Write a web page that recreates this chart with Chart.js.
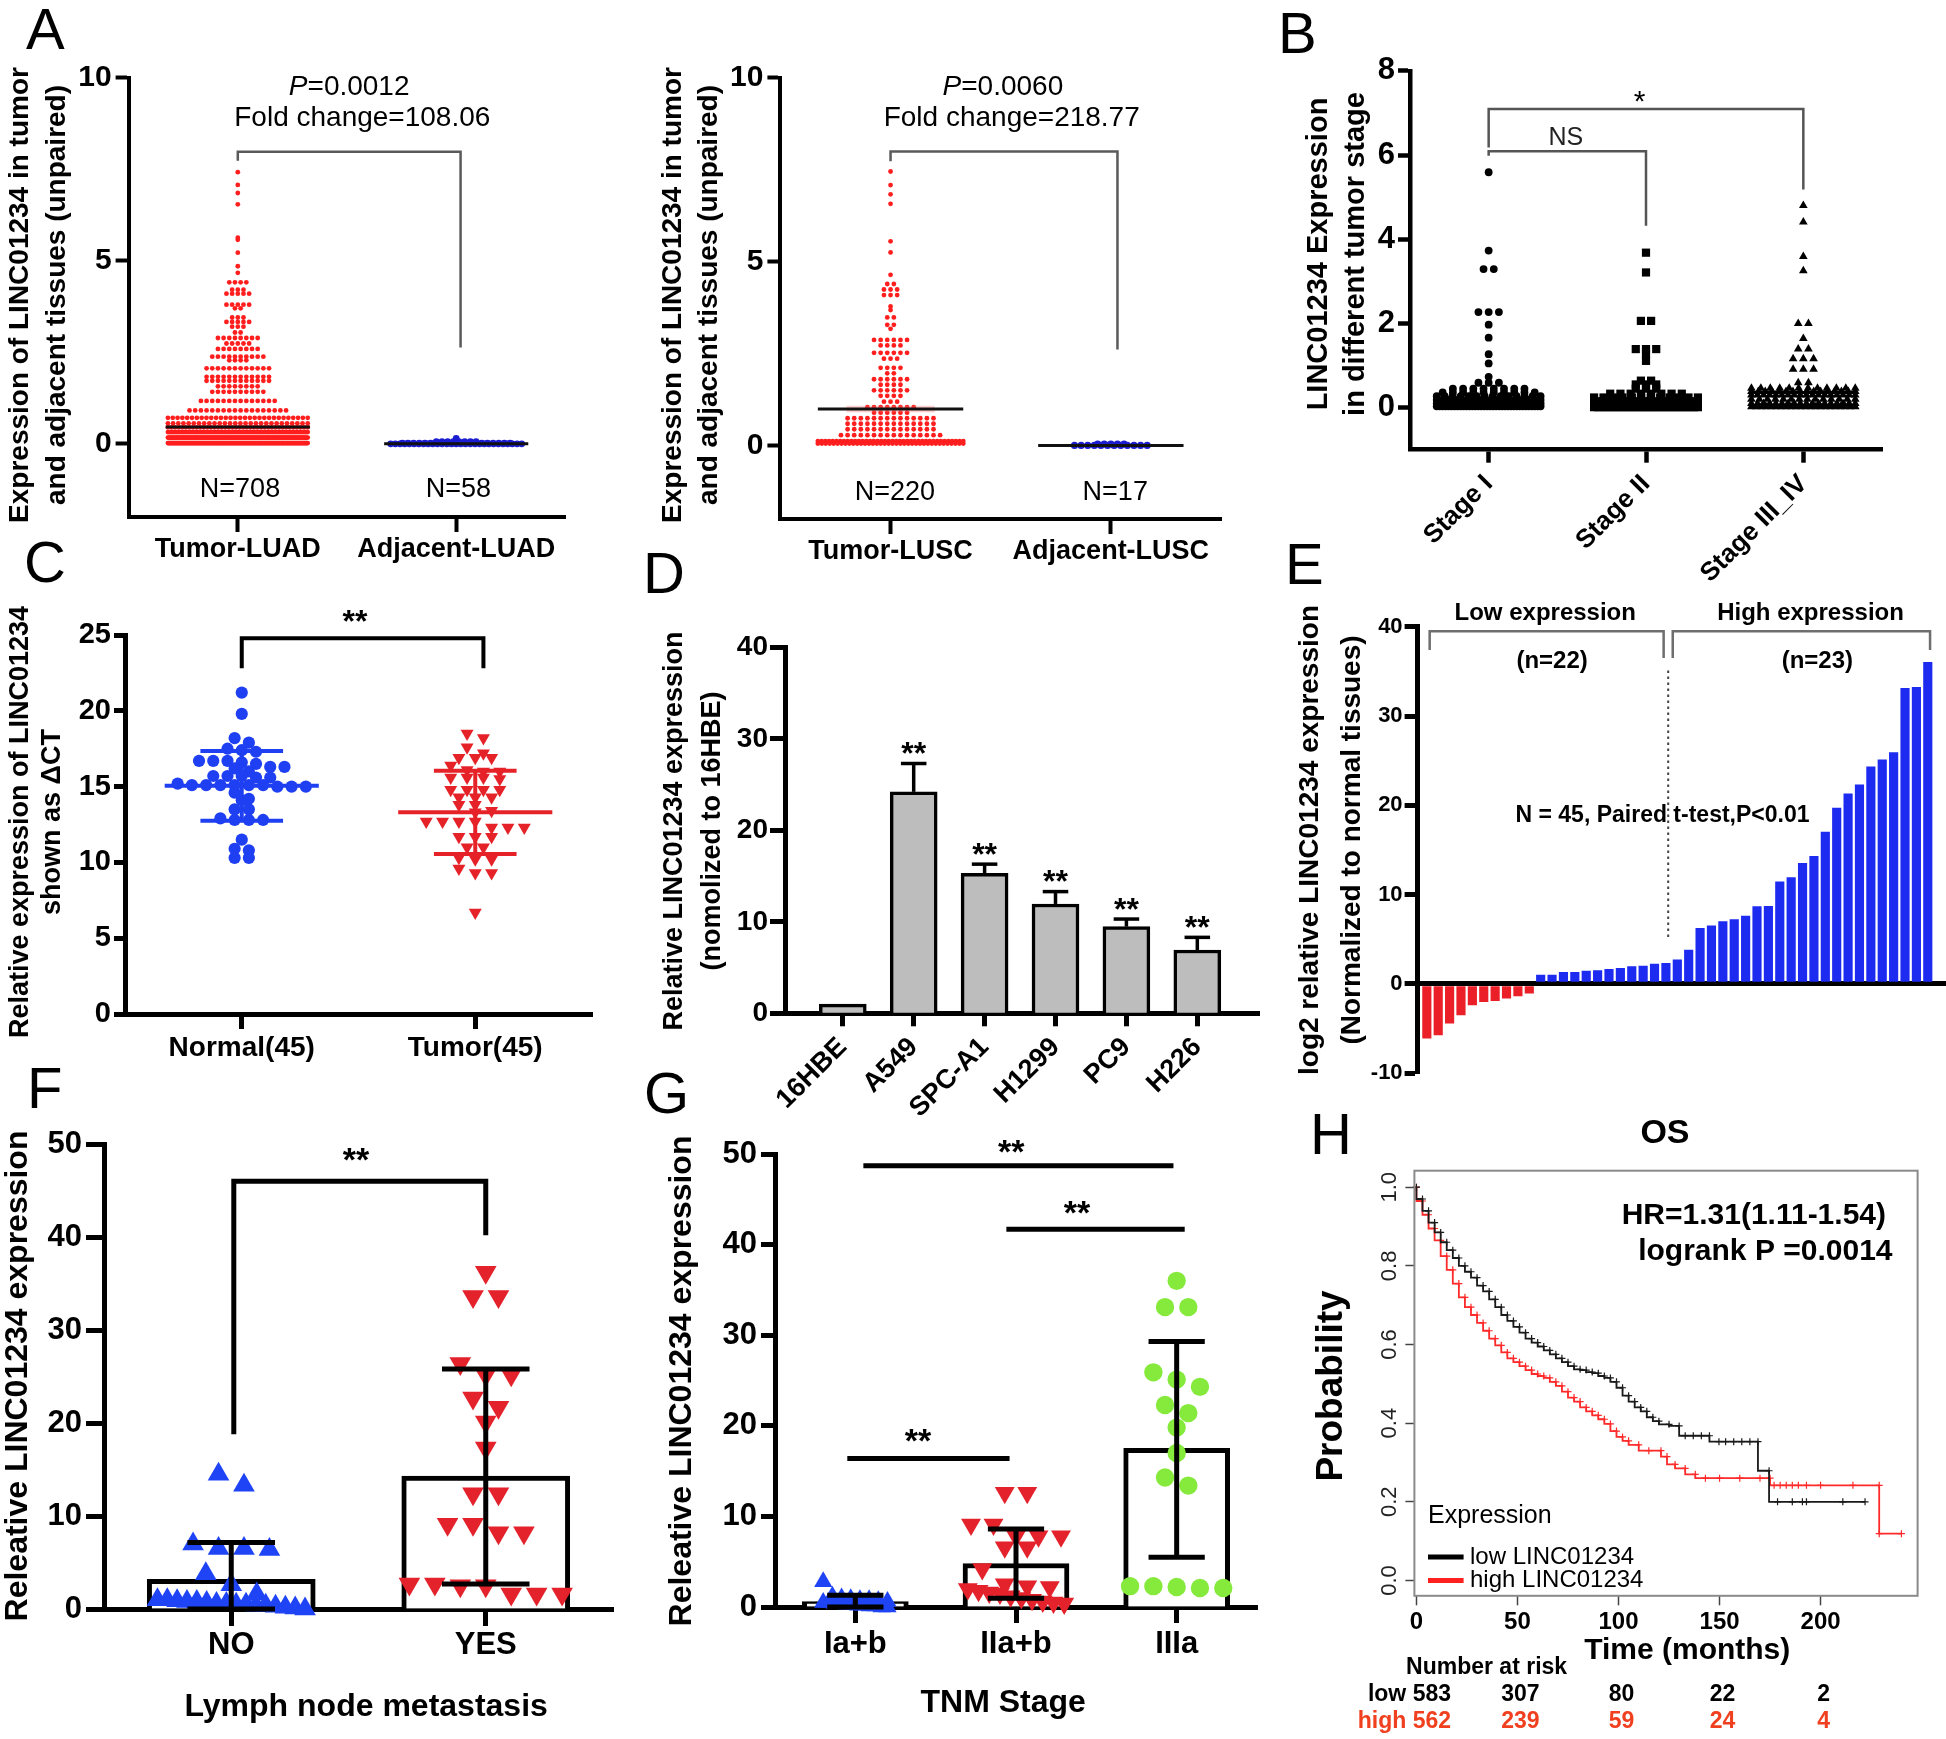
<!DOCTYPE html>
<html><head><meta charset="utf-8"><title>LINC01234 figure</title>
<script src="https://cdn.jsdelivr.net/npm/chart.js@4.4.1/dist/chart.umd.min.js"></script>
<style>
html,body{margin:0;padding:0;background:#fff;}
#wrap{position:relative;width:1946px;height:1739px;overflow:hidden;background:#fff;}
#wrap canvas{position:absolute;left:0;top:0;}
.pl{position:absolute;font-family:'Liberation Sans',Arial,sans-serif;font-size:58px;line-height:58px;color:#000;}
</style></head>
<body><div id="wrap">
<div class="pl" style="left:26px;top:0px">A</div>
<div class="pl" style="left:1278px;top:4px">B</div>
<div class="pl" style="left:24px;top:533px">C</div>
<div class="pl" style="left:643px;top:544px">D</div>
<div class="pl" style="left:1285px;top:535px">E</div>
<div class="pl" style="left:27px;top:1059px">F</div>
<div class="pl" style="left:644px;top:1064px">G</div>
<div class="pl" style="left:1310px;top:1105px">H</div>
</div>
<script>
// ======================= DATA =======================
// A: TCGA LUAD dot plot, rows of dots: [expression value, dots in row]
const luadCats = ['Tumor-LUAD', 'Adjacent-LUAD'];
const luadTumorRows = [[7.42,1],[7.07,1],[6.85,1],[6.54,1],[5.63,1],[5.57,1],[5.22,1],[4.85,1],[4.67,1],[4.41,4],[4.21,3],[4.10,5],[3.80,5],[3.70,2],[3.45,3],[3.33,5],[3.20,3],[3.04,2],[2.89,8],[2.74,5],[2.59,8],[2.38,10],[2.28,4],[2.06,12],[1.83,12],[1.72,12],[1.57,8],[1.42,10],[1.17,14],[0.91,18],[0.71,30],[0.56,28],[0.45,40],[0.32,100],[0.17,150],[0.02,198]];
const luadAdjRows = [[0.15,1],[0.06,8],[0.02,20],[0.0,29]];
const luadMeans = [0.46, 0.0];
const luadN = ['N=708', 'N=58'];
// A: TCGA LUSC
const luscCats = ['Tumor-LUSC', 'Adjacent-LUSC'];
const luscTumorRows = [[7.45,1],[7.08,1],[6.83,1],[6.57,1],[5.55,1],[5.25,1],[4.64,1],[4.39,2],[4.24,3],[4.09,3],[3.78,1],[3.68,1],[3.48,2],[3.28,2],[3.17,1],[2.87,6],[2.72,4],[2.52,6],[2.36,3],[2.11,4],[1.96,2],[1.80,6],[1.65,4],[1.50,6],[1.35,4],[1.19,3],[1.04,8],[0.89,6],[0.74,14],[0.59,14],[0.44,14],[0.28,16],[0.12,40],[0.05,38]];
const luscAdjRows = [[0.04,5],[0.0,12]];
const luscMeans = [0.99, 0.0];
const luscN = ['N=220', 'N=17'];
// B: expression by tumor stage
const stageCats = ['Stage I', 'Stage II', 'Stage III_IV'];
const stageIRows = [[5.59,1],[3.73,1],[3.29,2],[2.27,3],[1.97,1],[1.66,1],[1.27,1],[1.05,1],[0.73,1],[0.59,3],[0.45,8],[0.36,10],[0.27,14],[0.18,18],[0.10,26],[0.03,36]];
const stageIIRows = [[3.68,1],[3.21,1],[2.06,2],[1.39,3],[1.27,1],[1.11,1],[0.64,2],[0.55,3],[0.45,3],[0.33,8],[0.24,12],[0.15,18],[0.07,22],[0.01,26]];
const stageIIIRows = [[4.80,1],[4.41,1],[3.59,1],[3.25,1],[2.00,2],[1.64,1],[1.39,2],[1.16,3],[0.91,3],[0.59,2],[0.46,12],[0.38,16],[0.30,18],[0.20,14],[0.10,18],[0.02,22]];
const stageMeans = [0.13, 0.20, 0.36];
// C: delta CT, 45 paired samples
const cCats = ['Normal(45)', 'Tumor(45)'];
const cNormal = [21.2,19.8,18.2,17.9,17.5,17.4,17.3,16.7,16.7,16.6,16.5,16.7,16.3,16.3,16.2,16.0,15.7,15.7,15.6,15.6,15.7,15.1,15.1,15.0,15.1,15.2,15.0,15.1,15.1,15.0,15.1,14.6,14.2,14.1,13.5,13.5,12.8,12.8,12.8,12.9,11.5,10.9,10.8,10.3,10.3];
const cTumor = [18.5,18.2,17.6,17.2,16.9,16.9,16.9,16.4,16.1,16.0,16.0,15.6,15.6,15.6,15.5,14.8,14.8,14.8,14.8,14.3,14.3,14.3,13.8,13.8,13.4,13.3,12.7,12.7,12.7,12.7,12.3,12.3,12.3,11.7,11.7,11.7,11.0,11.0,10.3,10.2,10.2,9.6,9.3,9.3,6.7];
const cMean = [15.05, 13.3];
const cSD = [2.3, 2.75];
// D: cell lines
const dCells = ['16HBE', 'A549', 'SPC-A1', 'H1299', 'PC9', 'H226'];
const dMean = [1.0, 24.2, 15.3, 11.95, 9.47, 6.92];
const dErr = [0, 3.1, 1.0, 1.35, 0.83, 1.38];
// E: waterfall of 45 paired samples
const eValues = [-6.08,-5.7,-4.4,-3.47,-2.35,-1.98,-1.87,-1.6,-1.34,-1.04,1.0,1.0,1.3,1.3,1.45,1.5,1.64,1.75,1.94,2.0,2.24,2.31,2.7,3.8,6.23,6.5,7.0,7.2,7.6,8.66,8.7,11.45,11.9,13.5,14.3,17.0,19.7,21.3,22.3,24.3,25.1,25.9,33.1,33.2,36.0];
// F: lymph node metastasis
const fCats = ['NO', 'YES'];
const fNo = [14.5,13.3,7.0,6.5,6.5,6.4,3.8,2.6,1.6,1.0,1.0,0.9,0.8,0.8,0.7,0.6,0.6,0.5,0.5,0.4,0.4,0.3,0.2,0.1,0.0];
const fYes = [36.2,33.6,33.6,26.4,25.2,25.2,22.7,21.7,20.1,17.3,12.4,12.4,9.1,9.1,8.2,8.2,2.7,2.7,2.5,2.5,1.6,1.6,1.6];
const fMean = [3.2, 14.3];
const fLow = [0, 2.7];
const fHigh = [7.15, 25.8];
// G: TNM stage
const gCats = ['Ia+b', 'IIa+b', 'IIIa'];
const gIa = [2.8,1.2,1.0,0.9,0.8,0.8,0.7,0.6,0.5,0.5,0.4,0.4,0.3,0.3,0.2,0.2,0.1,0.1,0.0,0.0];
const gIIa = [12.6,12.6,9.1,9.1,7.8,7.8,7.8,6.6,6.6,4.2,2.5,2.3,2.2,2.0,1.8,1.6,1.5,1.2,1.0,0.8,0.6,0.5,0.4];
const gIIIa = [36.0,33.1,33.1,25.9,25.1,24.3,22.3,21.4,19.8,17.0,14.3,13.4,2.3,2.3,2.2,2.1,2.1];
const gMean = [0.6, 4.8, 17.5];
const gLow = [0, 0.96, 5.5];
const gHigh = [1.3, 8.6, 29.3];
// H: Kaplan-Meier OS
const kmLowT = [0,3,6,9,12,15,18,21,24,27,30,33,36,39,42,45,48,51,54,57,60,63,66,69,72,75,78,81,84,87,90,93,96,99,102,105,108,111,114,117,120,125,130,133,137,141,145,149.7,153,157,161,165,169,174.5,178.7,186,191,193,211,222];
const kmLowS = [1.00,0.97,0.94,0.91,0.885,0.86,0.84,0.82,0.80,0.785,0.77,0.75,0.735,0.715,0.695,0.675,0.66,0.645,0.63,0.615,0.605,0.595,0.585,0.575,0.565,0.555,0.545,0.537,0.535,0.53,0.527,0.52,0.515,0.505,0.49,0.47,0.455,0.44,0.43,0.415,0.405,0.397,0.393,0.368,0.368,0.368,0.368,0.353,0.353,0.353,0.353,0.353,0.353,0.279,0.20,0.20,0.20,0.20,0.20,0.20];
const kmHighT = [0,3,6,9,12,15,18,21,24,27,30,33,36,39,42,45,48,51,54,57,60,63,66,69,72,75,78,81,84,87,90,93,96,99,102,105,110,115,121,124,128,133,138,143,150,160,170,175,177,180,183,186,189,193,200,216,229,229,240];
const kmHighS = [1.0,0.965,0.93,0.895,0.865,0.825,0.79,0.755,0.72,0.695,0.675,0.655,0.635,0.615,0.598,0.58,0.565,0.555,0.545,0.535,0.525,0.52,0.515,0.505,0.495,0.48,0.465,0.455,0.44,0.43,0.42,0.41,0.398,0.38,0.365,0.355,0.345,0.33,0.33,0.315,0.295,0.285,0.27,0.26,0.26,0.26,0.26,0.26,0.242,0.242,0.242,0.242,0.242,0.242,0.242,0.242,0.242,0.119,0.119];
const kmTicks = [0, 50, 100, 150, 200];
const kmYTicks = [0, 0.2, 0.4, 0.6, 0.8, 1.0];
const riskTimes = [0, 50, 100, 150, 200];
const riskLow = [583, 307, 80, 22, 2];
const riskHigh = [562, 239, 59, 24, 4];
const hrText = ['HR=1.31(1.11-1.54)', 'logrank P =0.0014'];

// ======================= HELPERS =======================
const FF = "'Liberation Sans', Arial, Helvetica, sans-serif";
const PW = 1946, PH = 1739;
Chart.defaults.font.family = FF;
Chart.defaults.color = '#000';

function swarmRows(rows, cx, step, half) {
  const pts = [];
  rows.forEach(r => {
    const v = r[0], n = r[1];
    const s = n > 1 ? Math.min(step, 2 * half / (n - 1)) : 0;
    for (let i = 0; i < n; i++) pts.push({x: cx + (i - (n - 1) / 2) * s, y: v});
  });
  return pts;
}
function swarmVals(vals, cx, bin, step, half) {
  const sorted = vals.slice().sort((a, b) => b - a);
  const rows = [];
  sorted.forEach(v => {
    const last = rows[rows.length - 1];
    if (last && last[0] - v < bin) last.push(v); else rows.push([v]);
  });
  const pts = [];
  rows.forEach(r => {
    const n = r.length, s = n > 1 ? Math.min(step, 2 * half / (n - 1)) : 0;
    r.forEach((v, i) => pts.push({x: cx + (i - (n - 1) / 2) * s, y: v}));
  });
  return pts;
}
function xAxis(o) {
  return {
    type: 'linear', position: 'bottom', min: o.min, max: o.max, offset: false,
    afterBuildTicks: s => { s.ticks = o.vals.map(v => ({value: v})); },
    grid: {display: (o.tl || 0) > 0, offset: false, drawOnChartArea: false, drawTicks: true, tickLength: o.tl || 0,
      tickWidth: o.tw || 4, tickColor: o.tc || '#000', color: 'rgba(0,0,0,0)'},
    border: {display: (o.bw || 0) > 0, color: '#000', width: o.bw || 1},
    ticks: {display: !!o.labels, autoSkip: false, maxRotation: o.rot || 0, minRotation: o.rot || 0, padding: o.pad || 0,
      color: '#000', font: {family: FF, size: o.fs || 12, weight: o.fw || 'bold'},
      callback: (v, i) => (o.labels ? o.labels[i] : '')}
  };
}
function yAxis(o) {
  const zero = !!o.zero;
  return {
    type: 'linear', position: 'left', min: o.min, max: o.max,
    afterBuildTicks: s => { s.ticks = o.vals.map(v => ({value: v})); },
    afterFit: s => { s.width = 90; },
    grid: {display: true, drawOnChartArea: zero, drawTicks: true, tickLength: o.tl, tickWidth: o.tw || 4, tickColor: o.tc || '#000',
      color: c => (zero && c.tick && c.tick.value === 0) ? '#000' : 'rgba(0,0,0,0)',
      lineWidth: c => (zero && c.tick && c.tick.value === 0) ? (o.bw || 4) : 1},
    border: {display: (o.bw || 0) > 0, color: '#000', width: o.bw || 1},
    ticks: {padding: o.pad || 0, color: o.tcol || '#000', font: {family: FF, size: o.fs, weight: o.fw || 'bold'},
      callback: o.cb || (v => String(v))}
  };
}
function panel(box, type, datasets, xs, ys, draw, hX) {
  hX = hX || 150;
  xs.afterFit = s => { s.height = hX; };
  const cv = document.createElement('canvas');
  cv.width = PW; cv.height = PH;
  cv.style.width = PW + 'px'; cv.style.height = PH + 'px';
  document.getElementById('wrap').appendChild(cv);
  return new Chart(cv, {
    type: type,
    data: {datasets: datasets},
    options: {
      responsive: false, maintainAspectRatio: false, animation: false, devicePixelRatio: 1, events: [],
      layout: {padding: {left: box.L - 90, top: box.T, right: PW - box.R, bottom: PH - box.B - hX}},
      scales: {x: xs, y: ys},
      plugins: {legend: {display: false}, tooltip: {enabled: false}, title: {display: false}}
    },
    plugins: [{id: 'ann', afterDraw(ch) {
      const X = v => ch.scales.x.getPixelForValue(v);
      const Y = v => ch.scales.y.getPixelForValue(v);
      draw(ch.ctx, X, Y, ch);
    }}]
  });
}
function poly(c, pts, col, lw, dash) {
  c.save(); c.strokeStyle = col; c.lineWidth = lw; c.lineCap = 'butt'; c.lineJoin = 'miter';
  if (dash) c.setLineDash(dash);
  c.beginPath(); pts.forEach((p, i) => i ? c.lineTo(p[0], p[1]) : c.moveTo(p[0], p[1])); c.stroke(); c.restore();
}
function txt(c, s, x, y, font, o) {
  o = o || {};
  c.save(); c.font = font; c.fillStyle = o.color || '#000';
  c.textAlign = o.align || 'center'; c.textBaseline = o.base || 'middle';
  c.translate(x, y); if (o.rot) c.rotate(o.rot); c.fillText(s, 0, 0); c.restore();
}
function vTitle(c, lines, xs, yc, font) { lines.forEach((s, i) => txt(c, s, xs[i], yc, font, {rot: -Math.PI / 2})); }
function stars(c, s, x, yc, size, w) { txt(c, s, x, yc + 0.57 * size, (w || 'bold') + ' ' + size + 'px ' + FF, {base: 'alphabetic'}); }
function pItalic(c, x, y, size, rest) {
  c.save(); c.textBaseline = 'middle'; c.textAlign = 'left'; c.fillStyle = '#000';
  const fI = 'italic ' + size + 'px ' + FF, fR = size + 'px ' + FF;
  c.font = fI; const w1 = c.measureText('P').width;
  c.font = fR; const w2 = c.measureText(rest).width;
  const x0 = x - (w1 + w2) / 2;
  c.font = fI; c.fillText('P', x0, y);
  c.font = fR; c.fillText(rest, x0 + w1, y);
  c.restore();
}
function errBar(c, X, Y, x, lo, hi, cap, col, lw) {
  poly(c, [[X(x), Y(lo)], [X(x), Y(hi)]], col, lw);
  poly(c, [[X(x - cap), Y(hi)], [X(x + cap), Y(hi)]], col, lw);
  poly(c, [[X(x - cap), Y(lo)], [X(x + cap), Y(lo)]], col, lw);
}
function dots(data, color, r, style, rot) {
  return {type: 'scatter', data: data, pointStyle: style || 'circle', pointRadius: r, pointRotation: rot || 0,
    backgroundColor: color, borderColor: color, borderWidth: 0, pointBorderWidth: 0, clip: false, order: 1};
}

// ======================= PANEL A (LUAD) =======================
panel({L: 128.6, T: 77.7, R: 565.4, B: 517}, 'scatter', [
  dots(swarmRows(luadTumorRows, 0, 0.026, 0.32), '#ff1e1e', 2.4),
  dots(swarmRows(luadAdjRows, 1, 0.026, 0.3), '#1c1cd0', 3.4)
], xAxis({min: -0.5, max: 1.5, vals: [0, 1], labels: luadCats, fs: 27, tl: 15, pad: 1, bw: 4, tw: 4}),
   yAxis({min: -2, max: 10, vals: [0, 5, 10], fs: 30, tl: 13, pad: 4, bw: 4, tw: 4}),
   (c, X, Y) => {
     vTitle(c, ['Expression of LINC01234 in tumor', 'and adjacent tissues (unpaired)'], [20, 57], 295, 'bold 28px ' + FF);
     pItalic(c, X(0.51), Y(9.73), 28, '=0.0012');
     txt(c, 'Fold change=108.06', X(0.57), Y(8.89), '28px ' + FF);
     poly(c, [[X(0), Y(7.73)], [X(0), Y(7.98)], [X(1.02), Y(7.98)], [X(1.02), Y(2.63)]], '#5a5a5a', 2.5);
     luadMeans.forEach((m, i) => poly(c, [[X(i - 0.33), Y(m)], [X(i + 0.33), Y(m)]], '#111', 3));
     luadN.forEach((s, i) => txt(c, s, X(i + 0.01), Y(-1.26), '27px ' + FF));
   });

// ======================= PANEL A (LUSC) =======================
panel({L: 780.4, T: 77.7, R: 1221, B: 519}, 'scatter', [
  dots(swarmRows(luscTumorRows, 0, 0.03, 0.33), '#ff1e1e', 2.4),
  dots(swarmRows(luscAdjRows, 1, 0.03, 0.3), '#1c1cd0', 3.6)
], xAxis({min: -0.5, max: 1.5, vals: [0, 1], labels: luscCats, fs: 27, tl: 15, pad: 1, bw: 4, tw: 4}),
   yAxis({min: -2, max: 10, vals: [0, 5, 10], fs: 30, tl: 13, pad: 4, bw: 4, tw: 4}),
   (c, X, Y) => {
     vTitle(c, ['Expression of LINC01234 in tumor', 'and adjacent tissues (unpaired)'], [673.6, 709.2], 295, 'bold 28px ' + FF);
     pItalic(c, X(0.51), Y(9.73), 28, '=0.0060');
     txt(c, 'Fold change=218.77', X(0.55), Y(8.89), '28px ' + FF);
     poly(c, [[X(0), Y(7.73)], [X(0), Y(7.99)], [X(1.03), Y(7.99)], [X(1.03), Y(2.61)]], '#5a5a5a', 2.5);
     c.save(); c.fillStyle = 'rgba(255,120,120,0.35)';
     c.fillRect(X(-0.2), Y(1.08), X(0.2) - X(-0.2), Y(0.9) - Y(1.08)); c.restore();
     luscMeans.forEach((m, i) => poly(c, [[X(i - 0.33), Y(m)], [X(i + 0.33), Y(m)]], '#111', 3));
     luscN.forEach((s, i) => txt(c, s, X(i + 0.02), Y(-1.27), '27px ' + FF));
   });

// ======================= PANEL B =======================
panel({L: 1410, T: 70.8, R: 1882, B: 449.7}, 'scatter', [
  dots(swarmRows(stageIRows, 0, 0.065, 0.33), '#000', 3.9, 'circle'),
  dots(swarmRows(stageIIRows, 1, 0.065, 0.33), '#000', 5.8, 'rect'),
  dots(swarmRows(stageIIIRows, 2, 0.065, 0.33), '#000', 5, 'triangle')
], xAxis({min: -0.5, max: 2.5, vals: [0, 1, 2], labels: stageCats, fs: 26, tl: 13, pad: 6, bw: 4.5, tw: 4.5, rot: 45}),
   yAxis({min: -1, max: 8, vals: [0, 2, 4, 6, 8], fs: 31, tl: 12, pad: 3, bw: 4.5, tw: 4.5}),
   (c, X, Y) => {
     vTitle(c, ['LINC01234 Expression', 'in different tumor stage'], [1319, 1356], 254, 'bold 29px ' + FF);
     poly(c, [[X(0), Y(6.18)], [X(0), Y(7.09)], [X(2), Y(7.09)], [X(2), Y(5.18)]], '#555', 2.5);
     poly(c, [[X(0), Y(5.98)], [X(0), Y(6.09)], [X(1), Y(6.09)], [X(1), Y(4.32)]], '#555', 2.5);
     stars(c, '*', X(0.96), Y(7.45), 30, 'normal');
     txt(c, 'NS', X(0.49), Y(6.41), '25px ' + FF, {color: '#222'});
     stageMeans.forEach((m, i) => poly(c, [[X(i - 0.33), Y(m)], [X(i + 0.33), Y(m)]], '#000', 3));
   }, 175);

// ======================= PANEL C =======================
panel({L: 125, T: 635, R: 592, B: 1014}, 'scatter', [
  dots(swarmVals(cNormal, 0, 0.5, 0.061, 0.3), '#1f3ff2', 6.1, 'circle'),
  dots(swarmVals(cTumor, 1, 0.5, 0.07, 0.3), '#e62229', 7.5, 'triangle', 180)
], xAxis({min: -0.5, max: 1.5, vals: [0, 1], labels: cCats, fs: 28, tl: 15, pad: 2, bw: 5, tw: 5}),
   yAxis({min: 0, max: 25, vals: [0, 5, 10, 15, 20, 25], fs: 29, tl: 11, pad: 3, bw: 5, tw: 5}),
   (c, X, Y) => {
     vTitle(c, ['Relative expression of LINC01234', 'shown as \u0394CT'], [20.4, 53], 822, 'bold 27px ' + FF);
     poly(c, [[X(0), Y(22.8)], [X(0), Y(24.78)], [X(1.035), Y(24.78)], [X(1.035), Y(22.8)]], '#000', 4);
     stars(c, '**', X(0.485), Y(26.4), 32);
     const cols = ['#1f3ff2', '#e62229'];
     cMean.forEach((m, i) => {
       poly(c, [[X(i - 0.33), Y(m)], [X(i + 0.33), Y(m)]], cols[i], 4);
       errBar(c, X, Y, i, m - cSD[i], m + cSD[i], 0.177, cols[i], 4);
     });
   });

// ======================= PANEL D =======================
panel({L: 785, T: 647.3, R: 1259, B: 1013.3}, 'bar', [
  {type: 'bar', data: dMean.map((v, i) => ({x: i, y: v})), backgroundColor: '#bdbdbd', borderColor: '#000',
   borderWidth: 3.5, barThickness: 47, order: 2}
], xAxis({min: -0.815, max: 5.87, vals: [0, 1, 2, 3, 4, 5], labels: dCells, fs: 27, tl: 13, pad: 5, bw: 5, tw: 5, rot: 45}),
   yAxis({min: 0, max: 40, vals: [0, 10, 20, 30, 40], fs: 28, tl: 15, pad: 2, bw: 5, tw: 5}),
   (c, X, Y) => {
     vTitle(c, ['Relative LINC01234 expression', '(nomolized to 16HBE)'], [675, 713], 831, 'bold 27px ' + FF);
     dMean.forEach((m, i) => {
       if (!dErr[i]) return;
       const hi = m + dErr[i];
       poly(c, [[X(i), Y(m)], [X(i), Y(hi)]], '#000', 3.5);
       poly(c, [[X(i - 0.18), Y(hi)], [X(i + 0.18), Y(hi)]], '#000', 3.5);
       stars(c, '**', X(i), Y(hi + 1.9), 32);
     });
   }, 170);

// ======================= PANEL E =======================
panel({L: 1417.6, T: 626.7, R: 1946, B: 1073.3}, 'bar', [
  {type: 'bar', data: eValues.map((v, i) => ({x: i, y: v})), backgroundColor: eValues.map(v => v < 0 ? '#ea1f27' : '#1d2af0'),
   borderWidth: 0, barThickness: 8.5, order: 2}
], xAxis({min: -0.81, max: 45.6, vals: [], tl: 0, bw: 0}),
   yAxis({min: -10, max: 40, vals: [-10, 0, 10, 20, 30, 40], fs: 22, tl: 13, pad: 2, bw: 5, tw: 5, zero: true}),
   (c, X, Y) => {
     vTitle(c, ['log2 relative LINC01234 expression', '(Normalized to normal tissues)'], [1310, 1352], 840, 'bold 28px ' + FF);
     txt(c, 'Low expression', X(10.4), Y(41.5), 'bold 24px ' + FF);
     txt(c, 'High expression', X(33.7), Y(41.5), 'bold 24px ' + FF);
     txt(c, '(n=22)', X(11.0), Y(36.1), 'bold 24px ' + FF);
     txt(c, '(n=23)', X(34.3), Y(36.1), 'bold 24px ' + FF);
     poly(c, [[X(0.25), Y(37.4)], [X(0.25), Y(39.5)], [X(20.8), Y(39.5)], [X(20.8), Y(36.5)]], '#6e6e6e', 2.5);
     poly(c, [[X(21.6), Y(36.5)], [X(21.6), Y(39.5)], [X(44.2), Y(39.5)], [X(44.2), Y(37.4)]], '#6e6e6e', 2.5);
     poly(c, [[X(21.2), Y(35.1)], [X(21.2), Y(4.9)]], '#444', 2, [2.5, 3.5]);
     txt(c, 'N = 45, Paired t-test,P<0.01', X(20.7), Y(18.8), 'bold 23px ' + FF);
   });

// ======================= PANEL F =======================
panel({L: 104, T: 1144, R: 613, B: 1609}, 'bar', [
  {type: 'bar', data: fMean.map((v, i) => ({x: i, y: v})), backgroundColor: '#fff', borderColor: '#000',
   borderWidth: 5, barThickness: 168, order: 2},
  dots(swarmVals(fNo, 0, 2.2, 0.1, 0.29), '#1f44f5', 12.5, 'triangle'),
  dots(swarmVals(fYes, 1, 2.2, 0.1, 0.3), '#e3222b', 12.5, 'triangle', 180)
], xAxis({min: -0.5, max: 1.5, vals: [0, 1], labels: fCats, fs: 31, tl: 17, pad: 1, bw: 5, tw: 5}),
   yAxis({min: 0, max: 50, vals: [0, 10, 20, 30, 40, 50], fs: 31, tl: 18, pad: 4, bw: 5, tw: 5}),
   (c, X, Y) => {
     vTitle(c, ['Releative LINC01234 expression'], [18], 1376, 'bold 32px ' + FF);
     fMean.forEach((m, i) => errBar(c, X, Y, i, fLow[i], fHigh[i], 0.172, '#000', 5));
     poly(c, [[X(0.01), Y(18.8)], [X(0.01), Y(46)], [X(1), Y(46)], [X(1), Y(40.2)]], '#000', 5);
     stars(c, '**', X(0.49), Y(49.2), 34);
     txt(c, 'Lymph node metastasis', X(0.53), 1707, 'bold 32px ' + FF);
   }, 120);

// ======================= PANEL G =======================
panel({L: 775, T: 1154, R: 1257, B: 1607}, 'bar', [
  {type: 'bar', data: gMean.map((v, i) => ({x: i, y: v})), backgroundColor: '#fff', borderColor: '#000',
   borderWidth: 5, barThickness: 106, order: 2},
  dots(swarmVals(gIa, 0, 2.2, 0.12, 0.2), '#1f44f5', 10.5, 'triangle'),
  dots(swarmVals(gIIa, 1, 2.2, 0.14, 0.3), '#e3222b', 11.5, 'triangle', 180),
  dots(swarmVals(gIIIa, 2, 2.2, 0.145, 0.3), '#86ea3c', 9.2, 'circle')
], xAxis({min: -0.5, max: 2.5, vals: [0, 1, 2], labels: gCats, fs: 31, tl: 16, pad: 3, bw: 5, tw: 5}),
   yAxis({min: 0, max: 50, vals: [0, 10, 20, 30, 40, 50], fs: 31, tl: 14, pad: 4, bw: 5, tw: 5}),
   (c, X, Y) => {
     vTitle(c, ['Releative LINC01234 expression'], [682], 1381, 'bold 32px ' + FF);
     gMean.forEach((m, i) => errBar(c, X, Y, i, gLow[i], gHigh[i], 0.175, '#000', 5));
     poly(c, [[X(0.05), Y(48.7)], [X(1.98), Y(48.7)]], '#000', 5);
     poly(c, [[X(0.94), Y(41.7)], [X(2.05), Y(41.7)]], '#000', 5);
     poly(c, [[X(-0.05), Y(16.4)], [X(0.96), Y(16.4)]], '#000', 5);
     stars(c, '**', X(0.97), Y(51.1), 34);
     stars(c, '**', X(1.38), Y(44.4), 34);
     stars(c, '**', X(0.39), Y(19.2), 34);
     txt(c, 'TNM Stage', X(0.92), 1703, 'bold 32px ' + FF);
   }, 120);

// ======================= PANEL H =======================
function kmSet(ts, ss, col) {
  return {type: 'scatter', data: ts.map((t, i) => ({x: t, y: ss[i]})), showLine: true, stepped: 'after',
    borderColor: col, borderWidth: 1.8, backgroundColor: col, pointStyle: 'cross', pointRadius: 3.5,
    pointBorderColor: col, pointBorderWidth: 1.2, clip: false};
}
panel({L: 1414.4, T: 1170.7, R: 1917.6, B: 1595.8}, 'scatter', [
  kmSet(kmLowT, kmLowS, '#1a1a1a'),
  kmSet(kmHighT, kmHighS, '#ff2a2a')
], xAxis({min: -1, max: 248, vals: kmTicks, labels: kmTicks.map(String), fs: 24, tl: 9.5, pad: 3, bw: 0, tw: 1.5, tc: '#444'}),
   yAxis({min: -0.039, max: 1.042, vals: kmYTicks, fs: 19, tl: 9, pad: 2, bw: 0, tw: 1.5, tc: '#444', cb: () => ''}),
   (c, X, Y, ch) => {
     const a = ch.chartArea;
     c.save(); c.strokeStyle = '#8a8a8a'; c.lineWidth = 2; c.strokeRect(a.left, a.top, a.right - a.left, a.bottom - a.top); c.restore();
     kmYTicks.forEach(v => txt(c, v.toFixed(1), 1390.4, Y(v), '22px ' + FF, {rot: -Math.PI / 2, color: '#222'}));
     txt(c, 'Probability', 1331.8, 1386, 'bold 37px ' + FF, {rot: -Math.PI / 2});
     txt(c, 'Time (months)', X(134), 1650.8, 'bold 30px ' + FF);
     txt(c, 'OS', X(123), 1133.5, 'bold 34px ' + FF);
     txt(c, hrText[0], 1886, 1216, 'bold 30px ' + FF, {align: 'right'});
     txt(c, hrText[1], 1892.5, 1251.4, 'bold 30px ' + FF, {align: 'right'});
     txt(c, 'Expression', 1428, 1516, '25px ' + FF, {align: 'left'});
     poly(c, [[1428, 1557], [1463.6, 1557]], '#000', 5);
     poly(c, [[1428, 1580.5], [1463.6, 1580.5]], '#ff2020', 5);
     txt(c, 'low LINC01234', 1470, 1557, '24px ' + FF, {align: 'left'});
     txt(c, 'high LINC01234', 1470, 1580.5, '24px ' + FF, {align: 'left'});
     txt(c, 'Number at risk', 1486.6, 1667.4, 'bold 23px ' + FF);
     riskTimes.forEach((t, i) => {
       if (i === 0) {
         txt(c, 'low ' + riskLow[i], 1451, 1694.3, 'bold 23px ' + FF, {align: 'right'});
         txt(c, 'high ' + riskHigh[i], 1451, 1721.2, 'bold 23px ' + FF, {align: 'right', color: '#f0401f'});
       } else {
         txt(c, String(riskLow[i]), X(t) + 3, 1694.3, 'bold 23px ' + FF);
         txt(c, String(riskHigh[i]), X(t) + 3, 1721.2, 'bold 23px ' + FF, {color: '#f0401f'});
       }
     });
   }, 120);
</script>
</body></html>
